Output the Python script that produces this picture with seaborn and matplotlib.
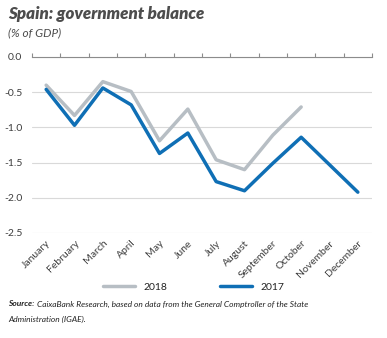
import matplotlib
matplotlib.use("Agg")
import matplotlib.pyplot as plt
import seaborn as sns
import pandas as pd
import numpy as np
from matplotlib.lines import Line2D

months = ["January", "February", "March", "April", "May", "June", "July",
          "August", "September", "October", "November", "December"]
balance_2018 = [-0.40, -0.83, -0.35, -0.49, -1.19, -0.74, -1.46, -1.60, -1.11, -0.71]
balance_2017 = [-0.46, -0.97, -0.44, -0.68, -1.37, -1.08, -1.77, -1.90, -1.51, -1.14, -1.53, -1.92]
yticks = [0.0, -0.5, -1.0, -1.5, -2.0, -2.5]

GRAY = "#b7bec4"
BLUE = "#0f6fb5"
TXT = "#4d4d4d"

df = pd.concat([
    pd.DataFrame({"month": months[:len(balance_2018)], "x": range(len(balance_2018)),
                  "value": balance_2018, "year": "2018"}),
    pd.DataFrame({"month": months, "x": range(len(balance_2017)),
                  "value": balance_2017, "year": "2017"}),
])

sns.set_style("white")
plt.rcParams["font.family"] = ["Lato", "DejaVu Sans"]

fig = plt.figure(figsize=(3.87, 3.38), dpi=100)
ax = fig.add_axes([32 / 387, 1 - 233 / 338, (372 - 32) / 387, (233 - 57) / 338])

sns.lineplot(data=df, x="x", y="value", hue="year", palette={"2018": GRAY, "2017": BLUE},
             hue_order=["2018", "2017"], linewidth=2.5, ax=ax, legend=False,
             solid_capstyle="round", solid_joinstyle="round")

ax.set_xlim(-0.5, len(months) - 0.5)
ax.set_ylim(-2.5, 0.0)
ax.set_yticks(yticks)
ax.set_yticklabels([f"{v:.1f}" for v in yticks])
ax.yaxis.grid(True, color="#d9d9d9", linewidth=0.8)
ax.set_axisbelow(True)
for s in ["left", "right", "bottom"]:
    ax.spines[s].set_visible(False)
ax.spines["top"].set_visible(True)
ax.spines["top"].set_color("#8c8c8c")
ax.spines["top"].set_linewidth(0.8)

ax.set_xticks(range(len(months)))
ax.set_xticklabels(months, rotation=45, ha="right", rotation_mode="anchor")
ax.tick_params(axis="x", length=0, pad=4, labelsize=7.5, labelcolor="#3d3d3d")
ax.tick_params(axis="y", length=0, pad=7, labelsize=7.5, labelcolor="#3d3d3d")
ax.set_xticks(np.arange(-0.5, len(months), 1.0), minor=True)
ax.tick_params(axis="x", which="minor", top=True, bottom=False, direction="out",
               length=3, color="#8c8c8c", width=0.8)
ax.set_xlabel("")
ax.set_ylabel("")

fig.text(8 / 387, 1 - 14 / 338, "Spain: government balance", fontsize=12.2, fontweight="heavy",
         fontstyle="italic", color=TXT, va="center")
fig.text(8 / 387, 1 - 33 / 338, "(% of GDP)", fontsize=8.5, fontstyle="italic",
         color=TXT, va="center")

handles = [Line2D([], [], color=GRAY, lw=2.5), Line2D([], [], color=BLUE, lw=2.5)]
fig.legend(handles, ["2018", "2017"], loc="center", bbox_to_anchor=(0.5, 1 - 287 / 338),
           ncol=2, frameon=False, fontsize=7.5, handlelength=3.1, columnspacing=5.0,
           handletextpad=0.8, labelcolor="#222222")

src = fig.text(8 / 387, 1 - 304 / 338, "Source:", fontsize=6.0, fontweight="bold",
               fontstyle="italic", color="#222222", va="center")
fig.canvas.draw()
bb = src.get_window_extent(renderer=fig.canvas.get_renderer())
x_after = (bb.x1 + 2.5) / fig.bbox.width
fig.text(x_after, 1 - 304 / 338,
         "CaixaBank Research, based on data from the General Comptroller of the State",
         fontsize=6.0, fontstyle="italic", color="#222222", va="center")
fig.text(8 / 387, 1 - 319 / 338, "Administration (IGAE).", fontsize=6.0, fontstyle="italic",
         color="#222222", va="center")

fig.savefig("out.png", dpi=100)
